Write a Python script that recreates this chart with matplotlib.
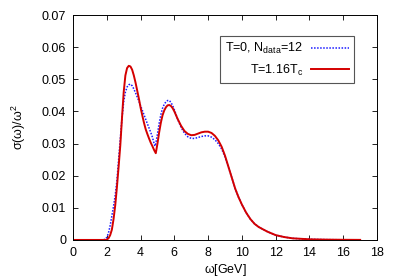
import matplotlib
matplotlib.use("Agg")
import matplotlib.pyplot as plt

plt.rcParams['font.family'] = ['Liberation Sans', 'DejaVu Sans']
plt.rcParams['mathtext.fontset'] = 'custom'
plt.rcParams['mathtext.rm'] = 'Liberation Sans'
plt.rcParams['mathtext.it'] = 'Liberation Sans'

# T=1.16Tc spectral function (red, solid)
omega_hot = [0, 1.9, 2.0, 2.1, 2.2, 2.3, 2.4, 2.5, 2.6, 2.7, 2.8, 2.9, 3.0,
             3.1, 3.2, 3.3, 3.4, 3.5, 3.6, 3.7, 3.8, 3.9, 4.0, 4.1, 4.2, 4.3,
             4.4, 4.5, 4.6, 4.7, 4.8, 4.9, 5.0, 5.1, 5.2, 5.3, 5.4, 5.5, 5.6,
             5.7, 5.8, 5.9, 6.0, 6.2, 6.4, 6.6, 6.8, 7.0, 7.2, 7.4, 7.6, 7.8,
             8.0, 8.2, 8.4, 8.6, 8.8, 9.0, 9.2, 9.4, 9.6, 9.8, 10.0, 10.25,
             10.5, 10.75, 11.0, 11.5, 12.0, 12.5, 13.0, 14.0, 15.0, 16.0, 17.0]
sigma_hot = [0, 0, 0.0001, 0.0005, 0.0015, 0.0032, 0.0065, 0.0108, 0.0165,
             0.0228, 0.0295, 0.0380, 0.0460, 0.0512, 0.0535, 0.0542, 0.0540,
             0.0530, 0.0512, 0.0490, 0.0465, 0.0440, 0.0412, 0.0388, 0.0365,
             0.0345, 0.0330, 0.0316, 0.0303, 0.0292, 0.0280, 0.0270, 0.0300,
             0.0335, 0.0365, 0.0388, 0.0403, 0.0413, 0.0419, 0.0420, 0.0417,
             0.0410, 0.0400, 0.0376, 0.0355, 0.0339, 0.0330, 0.0326, 0.0327,
             0.0331, 0.0335, 0.0337, 0.0337, 0.0333, 0.0324, 0.0310, 0.0290,
             0.0262, 0.0228, 0.0194, 0.0160, 0.0133, 0.0110, 0.0085, 0.0065,
             0.0050, 0.0040, 0.0026, 0.0015, 0.0009, 0.0005, 0.0002, 0.0001,
             0.00005, 0.00002]

# T=0, Ndata=12 spectral function (blue, dotted)
omega_zero = [0, 1.8, 1.9, 2.0, 2.1, 2.2, 2.3, 2.4, 2.5, 2.6, 2.7, 2.8, 2.9,
              3.0, 3.1, 3.2, 3.3, 3.4, 3.5, 3.6, 3.7, 3.8, 3.9, 4.0, 4.2, 4.4,
              4.6, 4.7, 4.8, 4.85, 4.9, 5.0, 5.1, 5.2, 5.3, 5.4, 5.5, 5.6, 5.7,
              5.8, 5.9, 6.0, 6.2, 6.4, 6.6, 6.8, 7.0, 7.2, 7.4, 7.6, 7.8, 8.0,
              8.2, 8.4, 8.6, 8.8, 9.0, 9.2, 9.4, 9.6, 9.8, 10.0, 10.25, 10.5,
              10.75, 11.0, 11.5, 12.0, 12.5, 13.0, 14.0, 15.0, 16.0, 17.0]
sigma_zero = [0, 0, 0.0003, 0.0008, 0.0022, 0.0045, 0.0075, 0.0105, 0.0140,
              0.0185, 0.0250, 0.0315, 0.0380, 0.0430, 0.0460, 0.0476, 0.0483,
              0.0485, 0.0480, 0.0470, 0.0458, 0.0445, 0.0432, 0.0418, 0.0390,
              0.0362, 0.0335, 0.0320, 0.0300, 0.0292, 0.0300, 0.0330, 0.0363,
              0.0390, 0.0410, 0.0422, 0.0430, 0.0434, 0.0434, 0.0428, 0.0418,
              0.0405, 0.0375, 0.0350, 0.0332, 0.0321, 0.0316, 0.0316, 0.0319,
              0.0322, 0.0324, 0.0324, 0.0320, 0.0312, 0.0300, 0.0283, 0.0258,
              0.0226, 0.0194, 0.0160, 0.0133, 0.0110, 0.0085, 0.0065, 0.0050,
              0.0040, 0.0026, 0.0015, 0.0009, 0.0005, 0.0002, 0.0001, 0.00005,
              0.00002]

x_ticks = [0, 2, 4, 6, 8, 10, 12, 14, 16, 18]
y_ticks = [0, 0.01, 0.02, 0.03, 0.04, 0.05, 0.06, 0.07]
y_tick_labels = ["0", "0.01", "0.02", "0.03", "0.04", "0.05", "0.06", "0.07"]

fig = plt.figure(figsize=(3.99, 2.79), dpi=100)
ax = fig.add_axes([0.183, 0.14, 0.762, 0.806])

ax.plot(omega_zero, sigma_zero, color='#1a1aff', linestyle=(0, (1, 1)),
        linewidth=1.1, label=r'T=0, N$_{\mathregular{data}}$=12')
ax.plot(omega_hot, sigma_hot, color='#d40000', linewidth=1.4,
        label=r'T=1.16T$_{\mathregular{c}}$')

ax.set_xlim(0, 18)
ax.set_ylim(0, 0.07)
ax.set_xticks(x_ticks)
ax.set_yticks(y_ticks)
ax.set_yticklabels(y_tick_labels)
ax.tick_params(direction='in', top=True, right=True, length=3.5,
               width=0.6, labelsize=9, pad=5)
for s in ax.spines.values():
    s.set_linewidth(0.7)

ax.set_xlabel(r'$\mathregular{\omega}$[GeV]', fontsize=9, labelpad=2)
ax.set_ylabel(r'$\mathregular{\sigma(\omega)/\omega^2}$', fontsize=9, labelpad=10)

# legend box, text right of the sample line
leg = ax.legend(loc='upper right', bbox_to_anchor=(0.924, 0.907),
                borderaxespad=0, markerfirst=False, fontsize=9,
                fancybox=False, framealpha=1, edgecolor='#555555',
                handlelength=3.0, borderpad=0.42, labelspacing=0.5,
                handletextpad=0.65)
leg.get_frame().set_linewidth(0.8)
for t in leg.get_texts():
    t.set_ha('right')

fig.savefig('out.png', dpi=100)
